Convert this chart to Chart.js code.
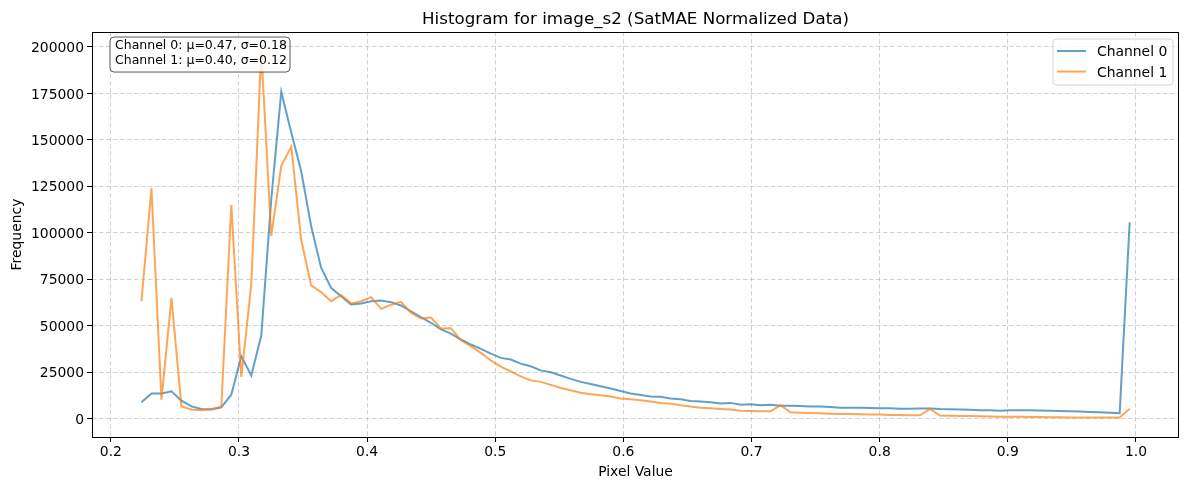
<!DOCTYPE html>
<html>
<head>
<meta charset="utf-8">
<script src="https://cdn.jsdelivr.net/npm/chart.js@4"></script>
<style>
  body { margin: 0; background: #fff; }
</style>
</head>
<body>
<canvas id="myChart" width="1189" height="490"></canvas>
<script>
// bin centres (pixel value)
const pixelValues = [
  0.2239, 0.2317, 0.2395, 0.2473, 0.2551, 0.2629, 0.2706, 0.2784, 0.2862, 0.2940,
  0.3018, 0.3096, 0.3174, 0.3252, 0.3330, 0.3408, 0.3485, 0.3563, 0.3641, 0.3719,
  0.3797, 0.3875, 0.3953, 0.4031, 0.4109, 0.4187, 0.4264, 0.4342, 0.4420, 0.4498,
  0.4576, 0.4654, 0.4732, 0.4810, 0.4888, 0.4966, 0.5043, 0.5121, 0.5199, 0.5277,
  0.5355, 0.5433, 0.5511, 0.5589, 0.5667, 0.5745, 0.5822, 0.5900, 0.5978, 0.6056,
  0.6134, 0.6212, 0.6290, 0.6368, 0.6446, 0.6524, 0.6601, 0.6679, 0.6757, 0.6835,
  0.6913, 0.6991, 0.7069, 0.7147, 0.7225, 0.7303, 0.7380, 0.7458, 0.7536, 0.7614,
  0.7692, 0.7770, 0.7848, 0.7926, 0.8004, 0.8082, 0.8159, 0.8237, 0.8315, 0.8393,
  0.8471, 0.8549, 0.8627, 0.8705, 0.8783, 0.8861, 0.8938, 0.9016, 0.9094, 0.9172,
  0.9250, 0.9328, 0.9406, 0.9484, 0.9562, 0.9640, 0.9717, 0.9795, 0.9873, 0.9951
];

const channel0 = [
  8800, 13500, 13500, 14700, 9700, 6600, 5200, 4900, 6100, 12900,
  33600, 23200, 44700, 118000, 175900, 154000, 133300, 103700, 81200, 70400,
  65900, 61400, 62000, 63200, 63600, 62700, 60900, 57800, 54600, 51600,
  48000, 45800, 42600, 39900, 37600, 35000, 32700, 31800, 29600, 28200,
  26000, 25000, 23200, 21400, 19800, 18700, 17400, 16200, 14900, 13600,
  12800, 12000, 11800, 10900, 10400, 9500, 9200, 8800, 8200, 8500,
  7500, 7700, 7200, 7500, 7000, 7000, 6800, 6600, 6500, 6300,
  5900, 5900, 5900, 5700, 5600, 5600, 5400, 5400, 5500, 5500,
  5200, 5100, 4900, 4800, 4600, 4500, 4300, 4500, 4500, 4500,
  4400, 4300, 4200, 4000, 3800, 3600, 3400, 3200, 3000, 105600
];

const channel1 = [
  63200, 124000, 10200, 65000, 6600, 4900, 4500, 5200, 6300, 115000,
  22500, 72200, 198100, 98300, 136000, 146400, 96500, 71700, 68100, 63200,
  66500, 62000, 63200, 65400, 59100, 61300, 62900, 57000, 53900, 54400,
  48500, 48700, 42200, 39000, 35400, 31300, 28000, 25500, 22800, 20600,
  19800, 18200, 16500, 15300, 14000, 13100, 12600, 11900, 10900, 10400,
  9900, 9300, 8500, 8100, 7200, 6600, 5900, 5600, 5200, 4900,
  4300, 4100, 4000, 4000, 7200, 3400, 3200, 3100, 2900, 2700,
  2500, 2500, 2400, 2300, 2200, 2000, 2000, 1900, 1800, 5200,
  1700, 1600, 1500, 1400, 1300, 1200, 1100, 1000, 1000, 900,
  900, 800, 800, 700, 700, 600, 600, 600, 600, 5300
];

const seriesNames = ["Channel 0", "Channel 1"];
const seriesColors = ["rgba(31,119,180,0.7)", "rgba(255,127,14,0.7)"];
const statLines = ["Channel 0: μ=0.47, σ=0.18", "Channel 1: μ=0.40, σ=0.12"];
const xTicks = [0.2, 0.3, 0.4, 0.5, 0.6, 0.7, 0.8, 0.9, 1.0];
const yTicks = [0, 25000, 50000, 75000, 100000, 125000, 150000, 175000, 200000];

const FONT = "'DejaVu Sans', sans-serif";
Chart.defaults.font.family = FONT;
Chart.defaults.color = "#000";

function roundBox(ctx, x, y, w, h, r) {
  ctx.beginPath();
  ctx.moveTo(x + r, y);
  ctx.lineTo(x + w - r, y);
  ctx.arcTo(x + w, y, x + w, y + r, r);
  ctx.lineTo(x + w, y + h - r);
  ctx.arcTo(x + w, y + h, x + w - r, y + h, r);
  ctx.lineTo(x + r, y + h);
  ctx.arcTo(x, y + h, x, y + h - r, r);
  ctx.lineTo(x, y + r);
  ctx.arcTo(x, y, x + r, y, r);
  ctx.closePath();
}

// frame, stats box and legend drawn inside the axes like matplotlib
const overlay = {
  id: "overlay",
  afterDatasetsDraw(chart) {
    const ctx = chart.ctx;
    const a = chart.chartArea;
    ctx.save();
    ctx.setLineDash([]);
    ctx.strokeStyle = "#000";
    ctx.lineWidth = 1;
    ctx.strokeRect(Math.round(a.left) + 0.5, Math.round(a.top) + 0.5,
      Math.round(a.right - a.left) - 1, Math.round(a.bottom - a.top));

    // stats box
    roundBox(ctx, a.left + 18, a.top + 5, 180, 35, 4);
    ctx.fillStyle = "rgba(255,255,255,0.8)";
    ctx.fill();
    ctx.strokeStyle = "rgba(0,0,0,0.65)";
    ctx.stroke();
    ctx.fillStyle = "#000";
    ctx.font = "12.5px " + FONT;
    ctx.textBaseline = "alphabetic";
    ctx.textAlign = "left";
    statLines.forEach((t, i) => {
      ctx.fillText(t, a.left + 23, a.top + 17 + i * 15);
    });

    // legend
    const lx = a.right - 126, ly = a.top + 7;
    roundBox(ctx, lx, ly, 120, 46, 3);
    ctx.fillStyle = "rgba(255,255,255,0.8)";
    ctx.fill();
    ctx.strokeStyle = "rgba(204,204,204,0.8)";
    ctx.stroke();
    ctx.font = "13.9px " + FONT;
    seriesNames.forEach((name, i) => {
      const yy = ly + 12 + i * 20.5;
      ctx.strokeStyle = seriesColors[i];
      ctx.lineWidth = 2;
      ctx.beginPath();
      ctx.moveTo(lx + 4, yy);
      ctx.lineTo(lx + 33, yy);
      ctx.stroke();
      ctx.fillStyle = "#000";
      ctx.fillText(name, lx + 44, yy + 5);
    });
    ctx.restore();
  }
};

const ctx = document.getElementById("myChart").getContext("2d");
const myChart = new Chart(ctx, {
  type: "line",
  data: {
    datasets: [
      {
        label: seriesNames[0],
        data: pixelValues.map((x, i) => ({ x: x, y: channel0[i] })),
        borderColor: seriesColors[0],
        backgroundColor: seriesColors[0],
        borderWidth: 2,
        pointRadius: 0,
        tension: 0,
        fill: false,
        order: 1,
      },
      {
        label: seriesNames[1],
        data: pixelValues.map((x, i) => ({ x: x, y: channel1[i] })),
        borderColor: seriesColors[1],
        backgroundColor: seriesColors[1],
        borderWidth: 2,
        pointRadius: 0,
        tension: 0,
        fill: false,
        order: 0,
      },
    ],
  },
  options: {
    responsive: false,
    animation: false,
    devicePixelRatio: 1,
    layout: { padding: { left: 0, right: 10, top: 0, bottom: 0 } },
    plugins: {
      legend: { display: false },
      tooltip: { enabled: false },
      title: {
        display: true,
        fullSize: false,
        text: "Histogram for image_s2 (SatMAE Normalized Data)",
        font: { size: 16.7, weight: "normal" },
        color: "#000",
        padding: { top: 10, bottom: 2 },
      },
    },
    scales: {
      x: {
        type: "linear",
        min: 0.1853,
        max: 1.0336,
        afterBuildTicks: (axis) => {
          axis.ticks = xTicks.map((v) => ({ value: v }));
        },
        afterFit: (axis) => {
          axis.height = 53;
        },
        ticks: {
          callback: (v) => v.toFixed(1),
          font: { size: 13.9 },
          padding: 2,
          maxRotation: 0,
          autoSkip: false,
        },
        grid: {
          color: "rgba(160,160,160,0.6)",
          lineWidth: 0.8,
          tickLength: 5,
          tickColor: "#000",
          tickWidth: 1,
          tickBorderDash: [],
        },
        border: { display: false, dash: [4.5, 2.5] },
        title: {
          display: true,
          text: "Pixel Value",
          font: { size: 13.9 },
          padding: { top: 4, bottom: 9 },
        },
      },
      y: {
        min: -9855,
        max: 208024,
        afterBuildTicks: (axis) => {
          axis.ticks = yTicks.map((v) => ({ value: v }));
        },
        afterFit: (axis) => {
          axis.width = 92;
        },
        ticks: {
          callback: (v) => String(v),
          font: { size: 13.9 },
          padding: 3,
          labelOffset: 1.5,
          autoSkip: false,
        },
        grid: {
          color: "rgba(160,160,160,0.6)",
          lineWidth: 0.8,
          tickLength: 5,
          tickColor: "#000",
          tickWidth: 1,
          tickBorderDash: [],
        },
        border: { display: false, dash: [4.5, 2.5] },
        title: {
          display: true,
          text: "Frequency",
          font: { size: 13.9 },
          padding: { top: 9, bottom: 4 },
        },
      },
    },
  },
  plugins: [overlay],
});
</script>
</body>
</html>
